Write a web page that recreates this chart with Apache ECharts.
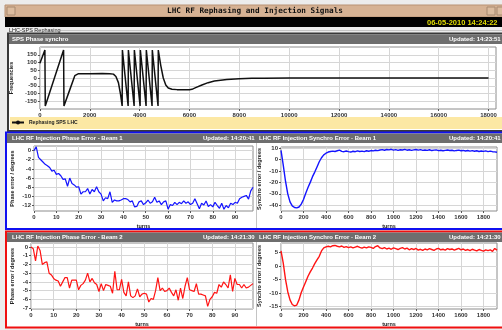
<!DOCTYPE html>
<html><head><meta charset="utf-8">
<script src="https://cdn.jsdelivr.net/npm/echarts@6/dist/echarts.min.js"></script>
<style>html,body{margin:0;padding:0;background:#ececec}#c{width:502px;height:330px}</style>
</head><body><div id="c"></div>
<script>
// ---- SPS phase synchro (turn, frequency) ----
const spsTurns = [0,200,215,950,965,1200,1400,1480,1550,2000,2500,2800,2950,3050,3150,3230,3300,3310,3540,3550,3780,3790,4020,4030,4260,4270,4500,4510,4740,4750,4850,4950,5050,5150,5300,5500,5800,6000,6100,6250,6500,6750,7000,7500,8000,8500,9000,10000,11000,12000,13000,14000,15000,16000,17000,18000];
const spsValues = [95,180,-180,180,-180,-75,15,25,28,28,29,28,25,10,-30,-100,-180,180,-180,180,-180,180,-180,180,-180,180,-180,180,-180,180,80,0,-45,-65,-73,-75,-75,-76,-73,-62,-45,-30,-20,-10,-5,-2,-1,0,0,0,0,0,0,0,0,0];
const spsXLabels = [0,2000,4000,6000,8000,10000,12000,14000,16000,18000];
const spsYLabels = [-150,-100,-50,0,50,100,150];

// ---- Injection phase error (turns 0..98) ----
const phaseTurns = [0,1,2,3,4,5,6,7,8,9,10,11,12,13,14,15,16,17,18,19,20,21,22,23,24,25,26,27,28,29,30,31,32,33,34,35,36,37,38,39,40,41,42,43,44,45,46,47,48,49,50,51,52,53,54,55,56,57,58,59,60,61,62,63,64,65,66,67,68,69,70,71,72,73,74,75,76,77,78,79,80,81,82,83,84,85,86,87,88,89,90,91,92,93,94,95,96,97,98];
const beam1Phase = [0,0.8,-1.5,-2,-2.5,-3,-3.3,-3.7,-4.5,-4.3,
 -5.2,-5,-5.5,-6.3,-6.2,-7.8,-6,-7.2,-7.5,-8,
 -7.9,-9.5,-9,-9,-8.3,-9.5,-8.5,-9,-7.9,-9,
 -9.5,-11,-10.3,-10.5,-9,-11.3,-10.8,-11,-11,-10.8,
 -10.5,-10.5,-10.7,-11.2,-11,-12.3,-12.2,-11.2,-11,-11.8,
 -11.4,-10.8,-11.5,-11.2,-10.2,-11.3,-11,-11.8,-11.2,-11,
 -12.8,-11.8,-12,-11.3,-11.8,-11.3,-11.6,-11,-11.5,-11.2,
 -11.8,-11.5,-10.5,-11.6,-12.7,-11.5,-11.9,-11,-12.2,-11.8,
 -12.3,-11.3,-12,-12.6,-11.5,-12.8,-12,-12.5,-11.5,-11.8,
 -11.3,-11.5,-10.5,-10.2,-10,-9.8,-10.6,-8.8,-8];
const beam2Phase = [0,-0.2,-1.6,0.1,-0.4,-2.0,-1.8,-1.7,-3.0,-3.2,
 -3.6,-3.8,-3.9,-4.5,-4.0,-3.5,-3.5,-4.7,-3.8,-3.8,
 -3.8,-4.9,-4.4,-4.2,-3.8,-3.0,-4.0,-3.6,-4.1,-4.3,
 -5.1,-4.2,-5.0,-4.3,-4.4,-4.5,-5.3,-2.8,-4.9,-4.9,
 -3.7,-5.2,-5.6,-4.0,-5.6,-5.8,-5.6,-4.8,-5.7,-5.4,
 -5.3,-5.4,-6.3,-5.9,-6.0,-5.0,-3.5,-5.0,-4.7,-5.1,
 -5.0,-4.7,-5.2,-5.6,-4.9,-6.1,-4.7,-5.9,-4.5,-3.5,
 -4.9,-5.0,-5.1,-4.2,-5.4,-5.4,-5.5,-5.6,-6.8,-6.0,
 -5.7,-5.2,-5.3,-4.3,-4.6,-4.0,-4.3,-4.7,-3.2,-5.1,
 -3.6,-4.3,-4.3,-4.7,-4.3,-4.7,-4.6,-4.4,-4.2];
const phaseXLabels = [0,10,20,30,40,50,60,70,80,90];
const beam1PhaseYLabels = [0,-2,-4,-6,-8,-10,-12];
const beam2PhaseYLabels = [0,-1,-2,-3,-4,-5,-6,-7];

// ---- Injection synchro error (turns 0..1920) ----
const synchroTurns = [0,20,40,60,80,100,120,140,160,180,200,220,240,260,280,300,320,340,360,380,400,420,440,460,480,500,520,540,560,580,600,620,640,660,680,700,720,740,760,780,800,820,840,860,880,900,920,940,960,980,1000,1020,1040,1060,1080,1100,1120,1140,1160,1180,1200,1220,1240,1260,1280,1300,1320,1340,1360,1380,1400,1420,1440,1460,1480,1500,1520,1540,1560,1580,1600,1620,1640,1660,1680,1700,1720,1740,1760,1780,1800,1820,1840,1860,1880,1900,1920];
const beam1Synchro = [8,-5,-19,-30,-37,-40.5,-42,-42.3,-41.5,-39,-35,-29.5,-24.5,-20,-15,-11,-6.5,-2,1.5,4,5.5,6.5,7,7.3,
 7.0,7.6,8.2,7.1,6.8,7.4,6.9,6.5,7.2,6.8,
 7.5,7.0,7.3,6.9,7.6,7.2,7.8,7.5,8.1,7.7,
 8.3,8.6,8.1,8.7,8.4,8.9,8.2,8.6,8.0,8.5,
 8.3,8.8,8.1,8.5,7.9,8.4,8.7,8.2,8.6,7.9,
 8.3,8.0,8.5,7.8,8.2,8.4,7.7,8.1,7.6,8.0,
 8.3,7.8,8.1,7.5,7.9,8.2,7.6,7.9,7.4,7.8,
 7.3,7.7,7.2,7.6,7.0,7.4,7.1,7.5,6.9,7.3,
 6.8,6.6,6.3];
const beam2Synchro = [5.5,1,-5,-9.5,-12.5,-14.2,-14.7,-14.4,-12.5,-9.8,-7.8,-5.8,-3.8,-2.2,-0.8,0.8,2.2,3.5,5.5,6.6,7.0,7.2,7.0,7.4,
 7.5,7.2,7.0,7.3,6.8,7.1,6.7,7.0,6.6,6.9,
 7.2,6.8,6.5,6.9,6.6,7.0,6.8,6.4,7.1,7.4,
 6.6,6.3,6.7,6.2,6.5,6.1,6.6,6.3,6.0,6.4,
 6.7,6.2,6.5,5.9,6.3,6.0,6.4,5.8,6.1,5.7,
 6.2,5.9,6.3,6.0,5.7,6.2,6.4,5.9,6.1,5.8,
 6.3,6.0,6.2,5.8,6.1,6.4,5.9,6.2,5.7,6.0,
 5.6,6.1,5.8,5.5,6.0,5.7,5.4,5.9,5.6,5.9,
 5.3,6.4,5.8];
const synchroXLabels = [0,200,400,600,800,1000,1200,1400,1600,1800];
const beam1SynchroYLabels = [10,0,-10,-20,-30,-40];
const beam2SynchroYLabels = [5,0,-5,-10,-15];

const FONT = '"Liberation Sans", Arial, sans-serif';
const pair = (xs, ys) => xs.map((x, i) => [x, ys[i]]);

function grid(l, t, r, b) {
  return {left: l, top: t, width: r - l, height: b - t, show: true, borderColor: '#8c8c8c', borderWidth: 1, backgroundColor: 'transparent'};
}
function axisCommon(labels) {
  return {
    type: 'value',
    axisLine: {show: false, onZero: false},
    axisTick: {show: true, length: 2, customValues: labels, lineStyle: {color: '#555'}},
    axisLabel: {customValues: labels, fontSize: 6, fontWeight: 'bold', color: '#333', fontFamily: FONT, margin: 3,
      formatter: v => String(v)},
    splitLine: {show: true, lineStyle: {color: '#d6d6d6', width: 1}},
    nameTextStyle: {fontSize: 5.5, fontWeight: 'bold', color: '#222', fontFamily: FONT}
  };
}
function xAx(gi, min, max, labels, name) {
  return Object.assign(axisCommon(labels), {gridIndex: gi, position: 'bottom', min, max, name: name || '', nameLocation: 'middle', nameGap: 12});
}
function yAx(gi, min, max, labels, name, gap) {
  return Object.assign(axisCommon(labels), {gridIndex: gi, position: 'left', min, max, name, nameLocation: 'middle', nameRotate: 90, nameGap: gap});
}

const txt = (x, y, text, fill, font, align) => ({type: 'text', x, y, z: 50, style: {text, fill, font, textAlign: align || 'left', verticalAlign: 'middle'}});
const rect = (x, y, w, h, fill, stroke, lw, z) => ({type: 'rect', z: z === undefined ? -5 : z, shape: {x, y, width: w, height: h}, style: {fill: fill || 'none', stroke: stroke || 'none', lineWidth: lw || 0}});
const line = (x1, y1, x2, y2, stroke, lw) => ({type: 'line', z: -4, shape: {x1, y1, x2, y2}, style: {stroke, lineWidth: lw || 1}});

const HEAD = 'bold 6px ' + FONT;

const graphic = [
  // window title bar
  rect(5, 5, 500, 12, '#d6b294', '#b89274', 1),
  rect(7, 7, 8, 8, '#dcbc9f', '#a88a70', 1, -4),
  rect(487, 7, 8, 8, '#dcbc9f', '#a88a70', 1, -4),
  rect(497, 7, 8, 8, '#dcbc9f', '#a88a70', 1, -4),
  txt(255, 11.5, 'LHC RF Rephasing and Injection Signals', '#111', 'bold 7.7px "DejaVu Sans Mono", monospace', 'center'),
  // black status bar
  rect(5, 17, 500, 10, '#000'),
  txt(427, 22.5, '06-05-2010 14:24:22', '#e0dc00', 'bold 7.5px ' + FONT),
  // group label
  line(60, 30.5, 505, 30.5, '#c4c4c4', 1),
  txt(9, 30.2, 'LHC-SPS Rephasing', '#222', '5.5px ' + FONT),
  // SPS panel
  rect(8, 33.5, 500, 97.5, '#fff', '#3a3a3a', 2),
  rect(9, 34.5, 500, 9.5, '#6e6e6e'),
  txt(12, 39.5, 'SPS Phase synchro', '#fff', HEAD),
  txt(449, 39.5, 'Updated: 14:23:51', '#fff', HEAD),
  rect(10, 117, 495, 12, '#fce8a4'),
  // Beam 1 panel
  rect(6, 132.5, 505, 96.5, '#fff', '#1010f0', 2),
  rect(7, 133.5, 500, 9.5, '#6e6e6e'),
  line(256.5, 143, 256.5, 228, '#c4c4c4', 1),
  txt(12, 138.5, 'LHC RF Injection Phase Error - Beam 1', '#fff', HEAD),
  txt(203, 138.5, 'Updated: 14:20:41', '#fff', HEAD),
  txt(259, 138.5, 'LHC RF Injection Synchro Error - Beam 1', '#fff', HEAD),
  txt(449, 138.5, 'Updated: 14:20:41', '#fff', HEAD),
  // Beam 2 panel
  rect(6, 231.5, 505, 96, '#fff', '#f01010', 2),
  rect(7, 232.5, 500, 9.5, '#6e6e6e'),
  line(256.5, 242, 256.5, 326, '#c4c4c4', 1),
  txt(12, 237.5, 'LHC RF Injection Phase Error - Beam 2', '#fff', HEAD),
  txt(203, 237.5, 'Updated: 14:21:30', '#fff', HEAD),
  txt(259, 237.5, 'LHC RF Injection Synchro Error - Beam 2', '#fff', HEAD),
  txt(449, 237.5, 'Updated: 14:21:30', '#fff', HEAD)
];

const option = {
  animation: false,
  backgroundColor: '#ececec',
  graphic: {elements: graphic},
  legend: {
    data: ['Rephasing SPS LHC'], left: 11, top: 120, itemWidth: 12, itemHeight: 5, padding: 0,
    textStyle: {fontSize: 5, fontWeight: 'bold', color: '#222', fontFamily: FONT}
  },
  grid: [
    grid(36, 47, 496, 109),
    grid(34, 146, 253, 211),
    grid(281, 147, 497, 211),
    grid(31, 243, 253, 309),
    grid(281, 243, 497, 309)
  ],
  xAxis: [
    xAx(0, 0, 18300, spsXLabels),
    xAx(1, 0, 98, phaseXLabels, 'turns'),
    xAx(2, 0, 1920, synchroXLabels, 'turns'),
    xAx(3, 0, 98, phaseXLabels, 'turns'),
    xAx(4, 0, 1920, synchroXLabels, 'turns')
  ],
  yAxis: [
    yAx(0, -200, 200, spsYLabels, 'Frequencies', 22),
    yAx(1, -13.2, 1, beam1PhaseYLabels, 'Phase error / degrees', 19),
    yAx(2, -45, 10.9, beam1SynchroYLabels, 'Synchro error / degrees', 19),
    yAx(3, -7.1, 0.45, beam2PhaseYLabels, 'Phase error / degrees', 16),
    yAx(4, -15.85, 8.4, beam2SynchroYLabels, 'Synchro error / degrees', 19)
  ],
  series: [
    {name: 'Rephasing SPS LHC', type: 'line', xAxisIndex: 0, yAxisIndex: 0, data: pair(spsTurns, spsValues),
     symbol: 'circle', symbolSize: 2, showSymbol: false, lineStyle: {color: '#111', width: 1.5}, itemStyle: {color: '#111'}},
    {name: 'Beam 1 phase', type: 'line', xAxisIndex: 1, yAxisIndex: 1, data: pair(phaseTurns, beam1Phase),
     symbol: 'none', lineStyle: {color: '#1414ff', width: 1.2}},
    {name: 'Beam 1 synchro', type: 'line', xAxisIndex: 2, yAxisIndex: 2, data: pair(synchroTurns, beam1Synchro),
     symbol: 'none', lineStyle: {color: '#1414ff', width: 1.4}},
    {name: 'Beam 2 phase', type: 'line', xAxisIndex: 3, yAxisIndex: 3, data: pair(phaseTurns, beam2Phase),
     symbol: 'none', lineStyle: {color: '#ff1414', width: 1.2}},
    {name: 'Beam 2 synchro', type: 'line', xAxisIndex: 4, yAxisIndex: 4, data: pair(synchroTurns, beam2Synchro),
     symbol: 'none', lineStyle: {color: '#ff1414', width: 1.4}}
  ]
};
const chart = echarts.init(document.getElementById('c'));
chart.setOption(option);
</script>
</body></html>
